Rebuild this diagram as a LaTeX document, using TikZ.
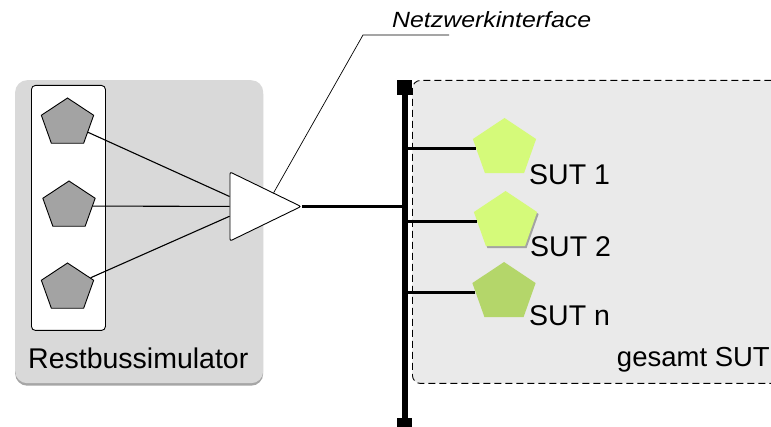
\documentclass[tikz,border=0pt]{standalone}
\usepackage{fontspec}
\setmainfont{Liberation Sans}
\usetikzlibrary{shapes.geometric,shadows,calc}

\definecolor{simfill}{HTML}{D9D9D9}
\definecolor{sutarea}{HTML}{EAEAEA}
\definecolor{ecugray}{HTML}{A3A3A3}
\definecolor{sutlight}{HTML}{D5FA7A}
\definecolor{sutdark}{HTML}{B4D66A}

\tikzset{
  biglabel/.style={font=\fontsize{28.5}{32}\selectfont, inner sep=0pt, anchor=base west},
  ecu/.style={regular polygon, regular polygon sides=5, minimum size=50pt,
    inner sep=0pt, xscale=1.1, draw=black, line width=0.9pt, fill=ecugray},
  sut/.style={regular polygon, regular polygon sides=5, minimum size=61pt,
    inner sep=0pt, xscale=1.09, draw=none},
  wire/.style={line width=1.1pt},
  branch/.style={line width=2.2pt},
}

\begin{document}
\begin{tikzpicture}[x=1pt,y=-1pt]
  \useasboundingbox (0,0) rectangle (771,427);
  \clip (0,0) rectangle (771,427);

  % simulator housing
  \node[draw=none, fill=simfill, rounded corners=12pt, minimum width=248pt,
        minimum height=303pt, inner sep=0pt, anchor=north west,
        drop shadow={shadow xshift=0pt, shadow yshift=-2.5pt, fill=black, opacity=0.35}]
        (sim) at (15,80) {};
  \node[draw=black, line width=0.9pt, fill=white, rounded corners=4pt,
        minimum width=74pt, minimum height=245pt, inner sep=0pt, anchor=north west]
        (ecubox) at (31,85) {};
  \node[biglabel] (simlabel) at (28,369) {Restbussimulator};

  % whole system under test
  \node[draw=black, dash pattern=on 7pt off 4pt, line width=0.9pt, fill=sutarea,
        rounded corners=8pt, minimum width=400pt, minimum height=303pt, inner sep=0pt,
        anchor=north west] (sutall) at (412,80) {};
  \node[biglabel, anchor=base east, font=\fontsize{27.5}{32}\selectfont]
        (sutalllabel) at (770,367) {gesamt SUT};

  % simulated control units
  \node[ecu] (g1) at (67.5,123) {};
  \node[ecu] (g2) at (69,206) {};
  \node[ecu] (g3) at (67.5,288) {};

  % network interface
  \node[isosceles triangle, isosceles triangle apex angle=54, isosceles triangle stretches,
        minimum width=69pt, minimum height=71pt, inner sep=0pt, draw=black,
        line width=0.9pt, fill=white, rounded corners=2pt, anchor=apex]
        (nif) at (302,206.5) {};

  \draw[wire] (g1) -- (nif);
  \draw[wire] (g2) -- (nif);
  \draw[wire] (g3) -- (nif);

  % bus line with end caps
  \coordinate (bustop) at (405,87);
  \coordinate (busbot) at (405,422);
  \draw[line width=6.5pt] (bustop) -- (busbot);
  \node[fill=black, minimum size=15pt, inner sep=0pt, anchor=north] (captop) at (404.5,80) {};
  \node[fill=black, minimum size=15pt, inner sep=0pt, anchor=north] (capbot) at (404.5,418) {};

  \draw[line width=2.4pt] (nif.apex) -- (nif.apex -| bustop);

  % systems under test
  \node[sut, fill=sutlight] (sut1) at (504.5,148.5) {};
  \node[sut, fill=sutlight, drop shadow={shadow xshift=1.5pt, shadow yshift=-2pt, fill=black, opacity=0.3}]
        (sut2) at (505.5,221.5) {};
  \node[sut, fill=sutdark] (sutn) at (504,292.5) {};

  \draw[branch] (sut1.180) -- (sut1.180 -| bustop);
  \draw[branch] (sut2.180) -- (sut2.180 -| bustop);
  \draw[branch] (sutn.180) -- (sutn.180 -| bustop);

  \node[biglabel] (l1) at (529,185) {SUT 1};
  \node[biglabel] (l2) at (530,257) {SUT 2};
  \node[biglabel] (ln) at (529,326) {SUT n};

  % callout for the network interface
  \node[inner sep=0pt, anchor=base west, font=\fontsize{22}{24}\selectfont\itshape]
        (niflabel) at (392,28) {\scalebox{1.13}[1]{Netzwerkinterface}};
  \coordinate (calloutbend) at (363,35);
  \coordinate (calloutend) at (449,35);
  \draw[line width=0.7pt] (nif.32) -- (calloutbend) -- (calloutend);
\end{tikzpicture}
\end{document}
